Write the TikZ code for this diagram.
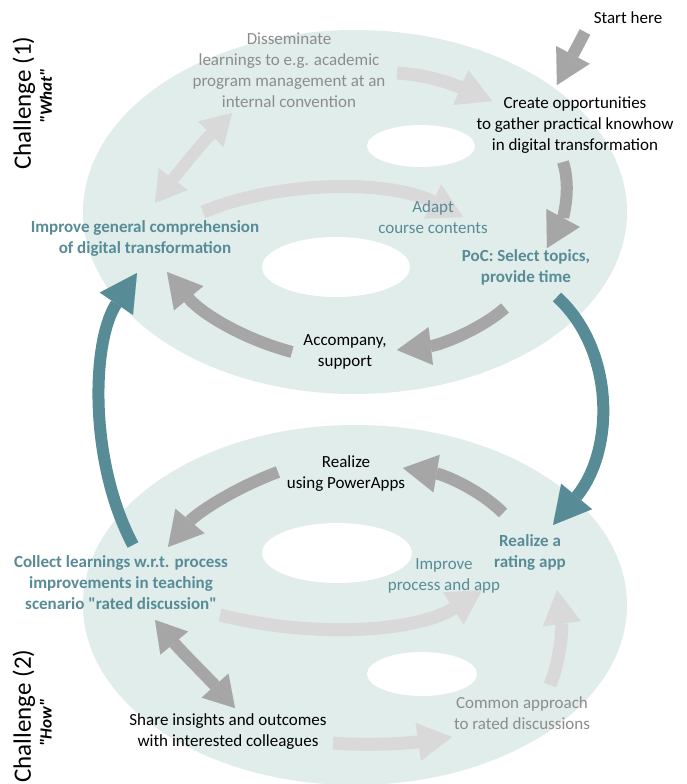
\documentclass[tikz,border=0pt]{standalone}
\usepackage{fontspec}
\setmainfont{Carlito}
\usetikzlibrary{arrows.meta}
\definecolor{ellc}{HTML}{E1EDEB}
\definecolor{tealc}{HTML}{578C96}
\definecolor{dgray}{HTML}{A6A6A6}
\definecolor{lgray}{HTML}{D9D9D9}
\definecolor{tgray}{HTML}{8C8C8C}
\tikzset{
  txt/.style={font=\fontsize{17}{21}\selectfont, align=center, inner sep=0pt},
  blacktxt/.style={txt, text=black},
  graytxt/.style={txt, text=tgray},
  tealtxt/.style={txt, text=tealc},
  tealbold/.style={txt, text=tealc, font=\fontsize{17}{21}\selectfont\bfseries},
  darkarr/.style={draw=dgray, line width=12pt, -{Triangle[width=38pt,length=34pt,line width=0.01pt]}},
  darkdbl/.style={draw=dgray, line width=12pt, {Triangle[width=36pt,length=30pt,line width=0.01pt]}-{Triangle[width=36pt,length=30pt,line width=0.01pt]}},
  lightarr/.style={draw=lgray, line width=13pt, -{Triangle[width=38pt,length=34pt,line width=0.01pt]}},
  lightdbl/.style={draw=lgray, line width=12pt, {Triangle[width=36pt,length=30pt,line width=0.01pt]}-{Triangle[width=36pt,length=30pt,line width=0.01pt]}},
  tealarr/.style={draw=tealc, line width=12pt, -{Triangle[width=40pt,length=37pt,line width=0.01pt]}},
  chal/.style={rotate=90, font=\fontsize{25}{30}\selectfont, inner sep=0pt},
  chalsub/.style={rotate=90, font=\fontsize{17}{20}\selectfont\bfseries\itshape, inner sep=0pt}
}
\begin{document}
\begin{tikzpicture}[x=1pt,y=-1pt]
\useasboundingbox (0,0) rectangle (686,784);
\clip (0,0) rectangle (686,784);
\fill[white] (0,0) rectangle (686,784);

% discs
\fill[ellc] (355,212) ellipse [x radius=272pt, y radius=182pt];
\fill[ellc] (355,605) ellipse [x radius=272pt, y radius=180pt];
\fill[white] (421,146) ellipse [x radius=54pt, y radius=21pt];
\fill[white] (336,267) ellipse [x radius=74pt, y radius=30pt];
\fill[white] (337,553) ellipse [x radius=75pt, y radius=30pt];
\fill[white] (422,674) ellipse [x radius=55pt, y radius=22pt];

% labels
\node[chal] (ch1) at (24,103) {Challenge (1)};
\node[chalsub] (wh) at (46,96) {\textquotedbl What\textquotedbl};
\node[chal] (ch2) at (24,716) {Challenge (2)};
\node[chalsub] (hw) at (46,723) {\textquotedbl How\textquotedbl};

% coordinates of arrows
\coordinate (a1s) at (585,32);  \coordinate (a1e) at (557,85);
\coordinate (a2s) at (397,73);  \coordinate (a2e) at (492,101);
\coordinate (a3s) at (563,162); \coordinate (a3e) at (547,248);
\coordinate (a4s) at (155,203); \coordinate (a4e) at (232,113);
\coordinate (a5s) at (203,212); \coordinate (a5e) at (463,217);
\coordinate (a6s) at (505,308); \coordinate (a6e) at (397,350);
\coordinate (a7s) at (292,352); \coordinate (a7e) at (167,272);
\coordinate (a8s) at (557,297); \coordinate (a8e) at (553,525);
\coordinate (a9s) at (133,545); \coordinate (a9e) at (137,273);
\coordinate (a10s) at (503,513); \coordinate (a10e) at (403,468);
\coordinate (a11s) at (278,472); \coordinate (a11e) at (168,547);
\coordinate (a12s) at (220,615); \coordinate (a12e) at (482,590);
\coordinate (a13s) at (155,620); \coordinate (a13e) at (235,708);
\coordinate (a14s) at (333,743); \coordinate (a14e) at (452,737);
\coordinate (a15s) at (550,685); \coordinate (a15e) at (557,590);

% light arrows
\draw[lightarr] (a2s) .. controls (430,75) and (455,85) .. (a2e);
\draw[lightdbl] (a4s) .. controls (180,170) and (205,140) .. (a4e);
\draw[lightarr] (a5s) .. controls (280,180) and (390,180) .. (a5e);
\draw[lightarr] (a12s) .. controls (320,640) and (420,630) .. (a12e);
\draw[lightarr] (a14s) .. controls (370,746) and (410,743) .. (a14e);
\draw[lightarr] (a15s) .. controls (562,655) and (562,625) .. (a15e);

% dark arrows
\draw[darkarr] (a1s) -- (a1e);
\draw[darkarr] (a3s) .. controls (572,190) and (562,220) .. (a3e);
\draw[darkarr] (a6s) .. controls (480,330) and (440,345) .. (a6e);
\draw[darkarr] (a7s) .. controls (240,338) and (200,312) .. (a7e);
\draw[darkarr] (a10s) .. controls (480,490) and (445,475) .. (a10e);
\draw[darkarr] (a11s) .. controls (230,490) and (195,515) .. (a11e);
\draw[darkdbl] (a13s) .. controls (180,650) and (210,680) .. (a13e);

% teal arrows
\draw[tealarr] (a8s) .. controls (615,350) and (615,450) .. (a8e);
\draw[tealarr] (a9s) .. controls (88,460) and (92,340) .. (a9e);

% texts
\node[blacktxt] (start) at (628,18) {Start here};
\node[graytxt] (diss) at (289,70.5) {Disseminate\\learnings to e.g. academic\\program management at an\\internal convention};
\node[blacktxt] (create) at (575,125) {Create opportunities\\to gather practical knowhow\\in digital transformation};
\node[tealtxt] (adapt) at (433,217) {Adapt\\course contents};
\node[tealbold] (impr) at (145,238) {Improve general comprehension\\of digital transformation};
\node[tealbold] (poc) at (526,267) {PoC: Select topics,\\provide time};
\node[blacktxt] (acc) at (345,352) {Accompany,\\support};
\node[blacktxt] (pa) at (346,474) {Realize\\using PowerApps};
\node[tealbold] (rate) at (530,552) {Realize a\\rating app};
\node[tealbold] (coll) at (121,583) {Collect learnings w.r.t. process\\improvements in teaching\\scenario \textquotedbl rated discussion\textquotedbl};
\node[tealtxt] (imp2) at (444,576) {Improve\\process and app};
\node[blacktxt] (share) at (228,732) {Share insights and outcomes\\with interested colleagues};
\node[graytxt] (common) at (522,713) {Common approach\\to rated discussions};
\end{tikzpicture}
\end{document}
